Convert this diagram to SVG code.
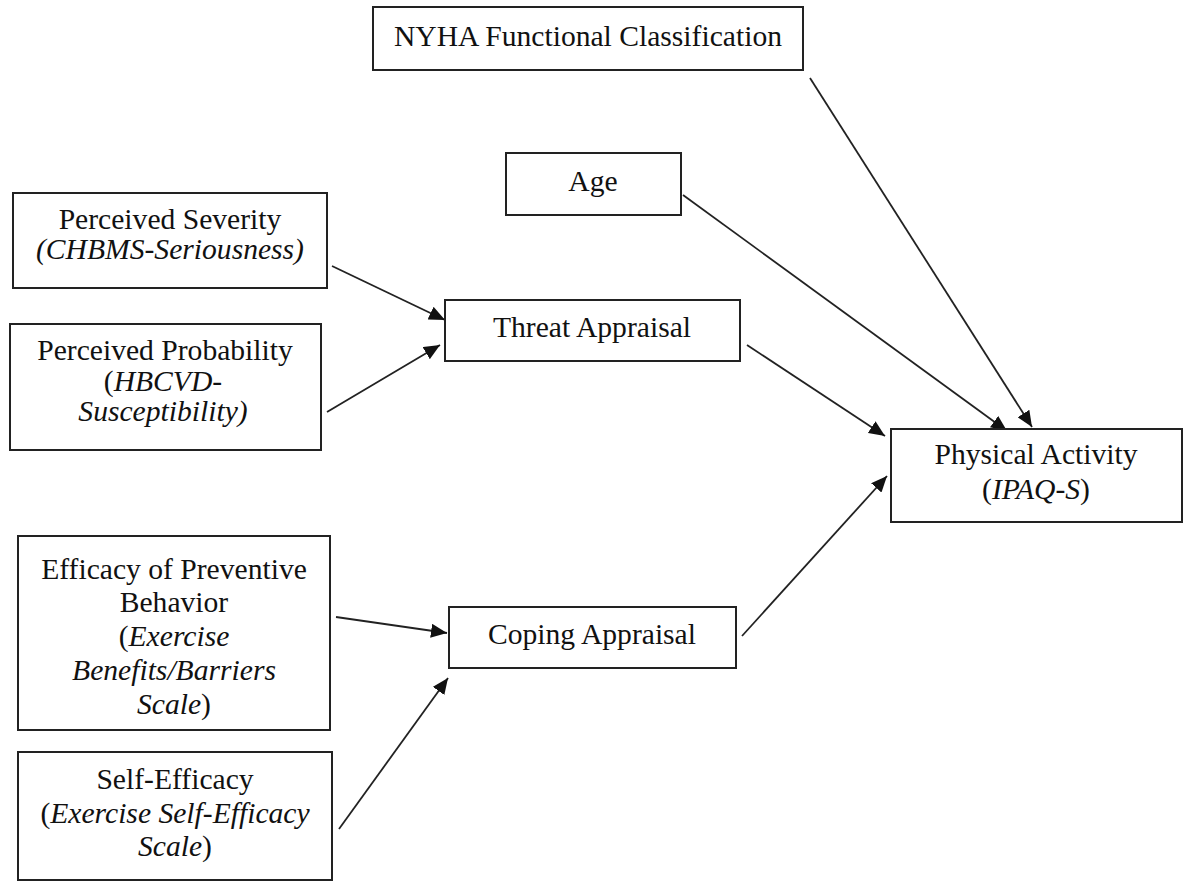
<svg xmlns="http://www.w3.org/2000/svg" width="1184" height="882" viewBox="0 0 1184 882">
<style>
.box{fill:#fff;stroke:#222;stroke-width:2}
.t{font-family:"Liberation Serif","Times New Roman",serif;font-size:29.6px;fill:#111;text-anchor:middle}
.i{font-style:italic}
.c{stroke:#222;stroke-width:1.8;fill:none;marker-end:url(#ah)}
</style>
<defs>
<marker id="ah" markerUnits="userSpaceOnUse" markerWidth="17" markerHeight="14" refX="16" refY="7" orient="auto">
<path d="M0,0 L16,7 L0,14 z" fill="#111"/>
</marker>
</defs>
<rect width="1184" height="882" fill="#fff"/>
<g id="connectors">
<line class="c" x1="810" y1="78" x2="1032" y2="427"/>
<line class="c" x1="683" y1="195" x2="1007" y2="431"/>
<line class="c" x1="747" y1="345" x2="885" y2="436"/>
<line class="c" x1="742" y1="636" x2="887" y2="476"/>
<line class="c" x1="332" y1="266" x2="445" y2="320"/>
<line class="c" x1="327" y1="412" x2="440" y2="345"/>
<line class="c" x1="336" y1="617" x2="447" y2="633"/>
<line class="c" x1="339" y1="829" x2="448" y2="678"/>
</g>
<g id="nyha">
<rect class="box" x="373" y="7" width="430" height="63"/>
<text class="t" x="588" y="46">NYHA Functional Classification</text>
</g>
<g id="age">
<rect class="box" x="506" y="153" width="175" height="62"/>
<text class="t" x="593" y="191">Age</text>
</g>
<g id="severity">
<rect class="box" x="13" y="193" width="314" height="95"/>
<text class="t" x="170" y="229">Perceived Severity</text>
<text class="t i" x="170" y="259">(CHBMS-Seriousness)</text>
</g>
<g id="probability">
<rect class="box" x="10" y="324" width="311" height="126"/>
<text class="t" x="165" y="360">Perceived Probability</text>
<text class="t" x="163" y="391">(<tspan class="i">HBCVD-</tspan></text>
<text class="t i" x="163" y="421">Susceptibility)</text>
</g>
<g id="threat">
<rect class="box" x="445" y="300" width="295" height="61"/>
<text class="t" x="592" y="337">Threat Appraisal</text>
</g>
<g id="efficacy">
<rect class="box" x="18" y="536" width="312" height="194"/>
<text class="t" x="174" y="579">Efficacy of Preventive</text>
<text class="t" x="174" y="612">Behavior</text>
<text class="t" x="174" y="646">(<tspan class="i">Exercise</tspan></text>
<text class="t i" x="174" y="680">Benefits/Barriers</text>
<text class="t" x="174" y="714"><tspan class="i">Scale</tspan>)</text>
</g>
<g id="coping">
<rect class="box" x="449" y="607" width="287" height="61"/>
<text class="t" x="592" y="644">Coping Appraisal</text>
</g>
<g id="selfefficacy">
<rect class="box" x="18" y="752" width="314" height="128"/>
<text class="t" x="175" y="789">Self-Efficacy</text>
<text class="t" x="175" y="823">(<tspan class="i">Exercise Self-Efficacy</tspan></text>
<text class="t" x="175" y="856"><tspan class="i">Scale</tspan>)</text>
</g>
<g id="physical">
<rect class="box" x="891" y="429" width="291" height="93"/>
<text class="t" x="1036" y="464">Physical Activity</text>
<text class="t" x="1036" y="499">(<tspan class="i">IPAQ-S</tspan>)</text>
</g>
</svg>
